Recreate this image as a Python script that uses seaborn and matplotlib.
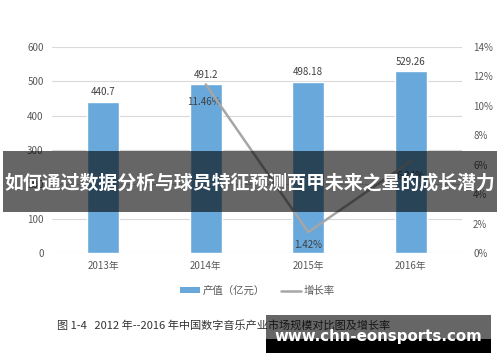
import matplotlib
matplotlib.use("Agg")
import matplotlib.pyplot as plt
import seaborn as sns
import pandas as pd
from matplotlib.patches import Patch, Rectangle
from matplotlib.lines import Line2D

years = ["2013年", "2014年", "2015年", "2016年"]
output_value = [440.7, 491.2, 498.18, 529.26]
growth_years = ["2014年", "2015年", "2016年"]
growth_rate = [11.46, 1.42, 6.24]
left_ticks = [0, 100, 200, 300, 400, 500, 600]
right_ticks = [0, 2, 4, 6, 8, 10, 12, 14]

sns.set_theme(style="white")
plt.rcParams['font.family'] = ['Noto Sans CJK SC', 'DejaVu Sans']

BAR = "#68A8DA"
LINE = "#A6A6A6"
TXT = "#595959"

fig = plt.figure(figsize=(5, 3.62), dpi=100)
ax = fig.add_axes([0.104, 0.301, 0.82, 0.569])

df = pd.DataFrame({"year": years, "value": output_value})
sns.barplot(data=df, x="year", y="value", color=BAR, width=0.31, ax=ax,
            saturation=1, zorder=3)
ax.set_xlim(-0.5, 3.5)
ax.set_ylim(0, 600)
ax.set_yticks(left_ticks)
ax.grid(axis="y", color="#d9d9d9", linewidth=0.8, zorder=0)
ax.set_axisbelow(True)
for s in ax.spines.values():
    s.set_visible(False)
ax.set_xlabel("")
ax.set_ylabel("")
ax.tick_params(axis="both", length=0, labelsize=7, colors=TXT, pad=6)
for i, v in enumerate(output_value):
    ax.text(i, v + 14, f"{v:g}", ha="center", va="bottom", fontsize=7, color="#404040")

ax2 = ax.twinx()
gx = [years.index(y) for y in growth_years]
sns.lineplot(x=gx, y=growth_rate, color=LINE, linewidth=1.8, ax=ax2, zorder=4)
ax2.set_ylim(0, 14)
ax2.set_yticks(right_ticks)
ax2.set_yticklabels([f"{t}%" for t in right_ticks])
for s in ax2.spines.values():
    s.set_visible(False)
ax2.grid(False)
ax2.tick_params(axis="y", length=0, labelsize=7, colors=TXT, pad=8)
ax2.set_ylabel("")
ax2.set_xlim(-0.5, 3.5)
offsets = [(-0.02, -1.2), (0, -0.9), (0, -1.0)]
for xi, r, (dx, dy) in zip(gx, growth_rate, offsets):
    ax2.text(xi + dx, r + dy, f"{r:.2f}%", ha="center", va="center", fontsize=7, color="#404040")

handles = [Patch(facecolor=BAR, edgecolor="none"), Line2D([0], [0], color=LINE, linewidth=1.8)]
fig.legend(handles, ["产值（亿元）", "增长率"], loc="center", bbox_to_anchor=(0.515, 1 - 291 / 362),
           ncol=2, frameon=False, fontsize=7.5, handlelength=1.9, handleheight=0.5,
           handletextpad=0.3, columnspacing=1.5, labelcolor=TXT)

fig.text(0.114, 1 - 325 / 362, "图 1-4   2012 年--2016 年中国数字音乐产业市场规模对比图及增长率",
         fontsize=8, color="#333333", ha="left", va="center", fontweight="medium")

# overlay banner
fig.patches.append(Rectangle((3 / 500, 1 - 212 / 362), 494 / 500, 61 / 362,
                             transform=fig.transFigure, facecolor="black", alpha=0.6,
                             edgecolor="none", zorder=10))
fig.text(0.5, 1 - 183 / 362, "如何通过数据分析与球员特征预测西甲未来之星的成长潜力",
         fontsize=13.6, color="white", fontweight="bold", ha="center", va="center", zorder=11)

# watermark
fig.patches.append(Rectangle((266 / 500, 1 - 339 / 362), 225 / 500, 24 / 362,
                             transform=fig.transFigure, facecolor="black", alpha=0.6,
                             edgecolor="none", zorder=10))
fig.patches.append(Rectangle((266 / 500, 1 - 353 / 362), 225 / 500, 14 / 362,
                             transform=fig.transFigure, facecolor="black",
                             edgecolor="none", zorder=10))
fig.text(378 / 500, 1 - 337 / 362, "www.chn-eonsports.com", fontsize=10.8, color="white",
         fontweight="bold", ha="center", va="center", zorder=11, family="DejaVu Sans")

fig.savefig("out.png", dpi=100)
